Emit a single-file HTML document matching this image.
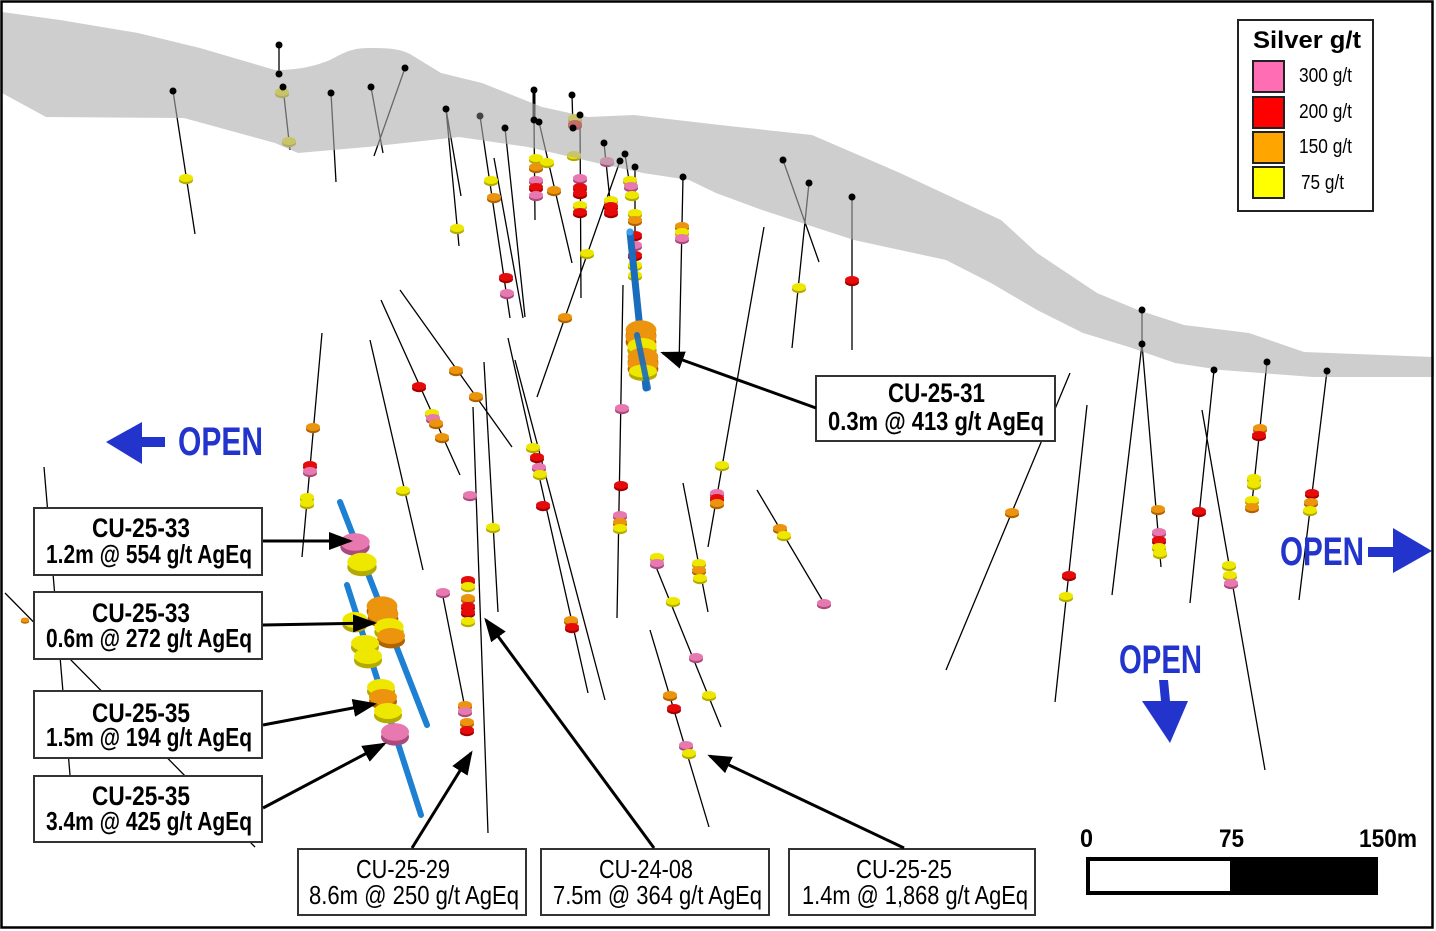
<!DOCTYPE html>
<html><head><meta charset="utf-8"><style>html,body{margin:0;padding:0;background:#fff}svg{display:block}</style></head>
<body>
<svg width="1436" height="931" viewBox="0 0 1436 931" xmlns="http://www.w3.org/2000/svg" font-family="'Liberation Sans', Arial, sans-serif">
<defs>
<g id="Y"><ellipse cy="2.2" rx="7" ry="4" fill="#b3ab00"/><ellipse rx="7" ry="4" fill="#eee800"/></g>
<g id="O"><ellipse cy="2.2" rx="7" ry="4" fill="#b06400"/><ellipse rx="7" ry="4" fill="#ec940e"/></g>
<g id="R"><ellipse cy="2.2" rx="7" ry="4" fill="#a00000"/><ellipse rx="7" ry="4" fill="#e60a0a"/></g>
<g id="P"><ellipse cy="2.2" rx="7" ry="4" fill="#a84a7c"/><ellipse rx="7" ry="4" fill="#e878b0"/></g>
<marker id="ah" markerWidth="8" markerHeight="6" refX="7" refY="3" orient="auto" markerUnits="strokeWidth"><path d="M0,0 L8,3 L0,6 z" fill="#000"/></marker>
</defs>
<rect width="1436" height="931" fill="#fff"/>

<!-- drill hole traces -->
<path fill="none" stroke="#000" stroke-width="1.3" d="M173 91L195 234 M279 45L279 74 M283 87L290 150 M331 93L336 182 M371 87L383 153 M405 68L374 156 M446 109L461 196 M446 109L459 246 M480 116L510 318 M494 158L523 318 M505 128L525 317 M534 120L535 220 M539 122L572 263 M572 95L573 128 M580 115L581 298 M604 143L611 210 M620 161L537 397 M625 154L632 200 M635 167L635 280 M683 177L679 367 M623 285L617 618 M764 227L708 547 M783 160L819 262 M809 183L792 348 M852 197L852 350 M1070 373L946 670 M1087 405L1055 702 M1142 310L1142 344 M1142 344L1112 595 M1142 344L1161 567 M1202 410L1265 770 M1214 370L1190 603 M1267 362L1251 512 M1327 371L1299 600 M757 490L824 603 M322 333L302 557 M370 340L423 570 M381 300L460 475 M400 290L512 447 M473 407L488 833 M443 597L464 703 M484 362L498 612 M508 338L588 693 M515 360L605 700 M683 483L708 612 M652 557L721 727 M650 630L709 827 M44 467L70 775 M5 593L255 847"/>
<path stroke="#000" stroke-width="3" d="M534 90L534 120"/>

<!-- small discs -->
<use href="#Y" x="186" y="178"/>
<use href="#Y" x="282" y="92"/><use href="#Y" x="289" y="141"/>
<use href="#Y" x="457" y="228"/>
<use href="#R" x="506" y="277"/><use href="#P" x="507" y="293"/>
<use href="#Y" x="491" y="180"/><use href="#O" x="494" y="197"/>
<use href="#Y" x="536" y="158"/><use href="#O" x="536" y="167"/><use href="#P" x="536" y="180"/><use href="#R" x="536" y="187"/><use href="#P" x="536" y="195"/>
<use href="#Y" x="547" y="162"/><use href="#O" x="554" y="190"/>
<use href="#Y" x="575" y="118"/><use href="#R" x="575" y="124"/><use href="#Y" x="574" y="155"/>
<use href="#P" x="580" y="178"/><use href="#R" x="580" y="187"/><use href="#R" x="580" y="193"/><use href="#Y" x="580" y="205"/><use href="#R" x="580" y="212"/>
<use href="#P" x="607" y="161"/><use href="#Y" x="611" y="200"/><use href="#R" x="611" y="206"/><use href="#R" x="611" y="212"/>
<use href="#Y" x="587" y="253"/><use href="#O" x="565" y="317"/>
<use href="#Y" x="630" y="180"/><use href="#P" x="631" y="186"/><use href="#Y" x="632" y="195"/>
<use href="#Y" x="635" y="213"/><use href="#O" x="635" y="220"/><use href="#R" x="635" y="235"/><use href="#P" x="635" y="245"/><use href="#R" x="635" y="255"/><use href="#Y" x="635" y="265"/><use href="#Y" x="635" y="275"/>
<use href="#O" x="682" y="226"/><use href="#Y" x="682" y="232"/><use href="#P" x="682" y="238"/>
<use href="#P" x="622" y="408"/><use href="#R" x="621" y="485"/><use href="#P" x="620" y="515"/><use href="#O" x="620" y="522"/><use href="#Y" x="620" y="528"/>
<use href="#Y" x="722" y="465"/><use href="#P" x="717" y="493"/><use href="#R" x="717" y="498"/><use href="#O" x="717" y="503"/>
<use href="#Y" x="799" y="287"/><use href="#R" x="852" y="280"/>
<use href="#O" x="1012" y="512"/>
<use href="#R" x="1069" y="575"/><use href="#Y" x="1066" y="596"/>
<use href="#O" x="1158" y="509"/><use href="#P" x="1159" y="532"/><use href="#R" x="1159" y="540"/><use href="#Y" x="1159" y="547"/><use href="#Y" x="1160" y="553"/>
<use href="#Y" x="1229" y="565"/><use href="#Y" x="1230" y="575"/><use href="#P" x="1231" y="583"/>
<use href="#R" x="1199" y="511"/>
<use href="#O" x="1260" y="428"/><use href="#R" x="1259" y="435"/><use href="#Y" x="1254" y="478"/><use href="#Y" x="1254" y="484"/><use href="#Y" x="1252" y="500"/><use href="#O" x="1252" y="507"/>
<use href="#R" x="1312" y="493"/><use href="#O" x="1311" y="502"/><use href="#Y" x="1310" y="510"/>
<use href="#O" x="780" y="528"/><use href="#Y" x="784" y="535"/><use href="#P" x="824" y="603"/>
<use href="#O" x="313" y="427"/><use href="#R" x="310" y="465"/><use href="#P" x="310" y="471"/><use href="#Y" x="307" y="497"/><use href="#Y" x="307" y="503"/>
<use href="#Y" x="403" y="490"/>
<use href="#R" x="419" y="386"/><use href="#Y" x="432" y="413"/><use href="#P" x="433" y="418"/><use href="#O" x="436" y="423"/><use href="#O" x="442" y="437"/>
<use href="#O" x="456" y="370"/><use href="#O" x="476" y="396"/>
<use href="#P" x="470" y="495"/><use href="#R" x="468" y="580"/><use href="#Y" x="468" y="586"/><use href="#O" x="468" y="598"/><use href="#R" x="468" y="606"/><use href="#R" x="468" y="612"/><use href="#Y" x="468" y="621"/>
<use href="#O" x="465" y="705"/><use href="#P" x="465" y="711"/><use href="#O" x="467" y="722"/><use href="#R" x="467" y="730"/>
<use href="#P" x="443" y="592"/>
<use href="#Y" x="493" y="527"/>
<use href="#Y" x="533" y="447"/><use href="#R" x="537" y="457"/><use href="#P" x="539" y="467"/><use href="#Y" x="540" y="474"/><use href="#R" x="543" y="505"/><use href="#O" x="571" y="620"/><use href="#R" x="572" y="627"/>
<use href="#Y" x="699" y="563"/><use href="#O" x="699" y="570"/><use href="#Y" x="700" y="578"/>
<use href="#Y" x="657" y="557"/><use href="#P" x="657" y="563"/><use href="#Y" x="673" y="601"/><use href="#P" x="696" y="657"/><use href="#Y" x="709" y="695"/>
<use href="#O" x="670" y="695"/><use href="#R" x="674" y="708"/><use href="#P" x="686" y="745"/><use href="#Y" x="689" y="753"/>
<use href="#O" transform="translate(25,620) scale(0.6)"/>

<!-- topographic surface band -->
<path fill="#aeaeae" fill-opacity="0.6" d="M2 12 L60 20 L138 33 L200 48 L275 70 C300 70 315 66 330 60 C345 52 352 48 370 48 C390 48 400 49 410 54 L441 73 L482 83 L542 107 L588 117 L634 115 L720 125 L812 135 L900 173 L1001 220 L1037 253 L1097 293 L1138 310 L1184 325 L1249 333 L1304 352 L1434 357 L1434 377 L1313 377 L1221 370 L1175 363 L1129 347 L1083 333 L1037 310 L991 283 L946 260 L854 240 L762 210 L716 193 L689 180 L643 173 L597 163 L528 147 L459 137 L367 147 L298 153 L275 143 L184 118 L46 117 L2 93 Z"/>

<!-- collars -->
<g fill="#000">
<circle cx="173" cy="91" r="3.5"/><circle cx="279" cy="45" r="3.5"/><circle cx="279" cy="74" r="3.5"/><circle cx="283" cy="87" r="3.5"/><circle cx="331" cy="93" r="3.5"/><circle cx="371" cy="87" r="3.5"/><circle cx="405" cy="68" r="3.5"/><circle cx="446" cy="109" r="3.5"/><circle cx="480" cy="116" r="3.5" fill="#444"/><circle cx="505" cy="128" r="3.5"/><circle cx="534" cy="90" r="3.5"/><circle cx="534" cy="120" r="3.5"/><circle cx="539" cy="122" r="3.5"/><circle cx="572" cy="95" r="3.5"/><circle cx="573" cy="128" r="3.5"/><circle cx="580" cy="115" r="3.5"/><circle cx="604" cy="143" r="3.5"/><circle cx="620" cy="161" r="3.5"/><circle cx="625" cy="154" r="3.5"/><circle cx="635" cy="167" r="3.5"/><circle cx="683" cy="177" r="3.5"/><circle cx="783" cy="160" r="3.5"/><circle cx="809" cy="183" r="3.5"/><circle cx="852" cy="197" r="3.5"/><circle cx="1142" cy="310" r="3.5"/><circle cx="1142" cy="344" r="3.5"/><circle cx="1214" cy="370" r="3.5"/><circle cx="1267" cy="362" r="3.5"/><circle cx="1327" cy="371" r="3.5"/>
</g>

<!-- blue traces -->
<g stroke-linecap="round" fill="none">
<path d="M340 502L427 725" stroke="#1e80d2" stroke-width="6"/>
<path d="M347 585L421 815" stroke="#1e80d2" stroke-width="6"/>
<path d="M630 232L646 388" stroke="#1a6cbc" stroke-width="7"/>
</g>
<circle cx="630" cy="232" r="3.5" fill="#3aa0f0"/>

<!-- big discs on blue traces -->
<use href="#P" transform="translate(355,542) scale(2.1,2.2)"/>
<use href="#Y" transform="translate(362,562) scale(2.1,2.3)"/>
<use href="#Y" transform="translate(355,620) scale(1.8,2)"/>
<use href="#O" transform="translate(382,606) scale(2.2,2.4)"/>
<use href="#O" transform="translate(383,614) scale(2.2,2.2)"/>
<use href="#Y" transform="translate(389,627) scale(2.1,2.2)"/>
<use href="#O" transform="translate(391,636) scale(2,2)"/>
<use href="#Y" transform="translate(365,643) scale(2,2)"/>
<use href="#Y" transform="translate(368,656) scale(2,2)"/>
<use href="#Y" transform="translate(381,687) scale(2,2)"/>
<use href="#O" transform="translate(383,697) scale(2,2)"/>
<use href="#Y" transform="translate(388,711) scale(2,2)"/>
<use href="#P" transform="translate(395,732) scale(2,2.2)"/>
<use href="#O" transform="translate(641,330) scale(2.2,2.4)"/>
<use href="#O" transform="translate(641,337) scale(2.2,2.3)"/>
<use href="#Y" transform="translate(642,346) scale(2.1,2)"/>
<use href="#O" transform="translate(643,357) scale(2.2,2.3)"/>
<use href="#O" transform="translate(643,364) scale(2.2,2.2)"/>
<use href="#Y" transform="translate(643,371) scale(2,1.6)"/>
<path d="M637 335L648 388" stroke="#1a6cbc" stroke-width="6" stroke-linecap="round" opacity="0.9"/>

<!-- annotation boxes -->
<g fill="#fff" stroke="#333" stroke-width="2">
<rect x="34" y="508" width="228" height="67"/>
<rect x="34" y="592" width="228" height="67"/>
<rect x="34" y="691" width="228" height="67"/>
<rect x="34" y="776" width="228" height="66"/>
<rect x="816" y="376" width="239" height="65"/>
<rect x="298" y="849" width="228" height="66"/>
<rect x="541" y="849" width="228" height="66"/>
<rect x="789" y="849" width="246" height="66"/>
</g>

<!-- arrows -->
<g stroke="#000" stroke-width="3" fill="none" marker-end="url(#ah)">
<path d="M263 541L350 541"/>
<path d="M263 625L374 623"/>
<path d="M263 725L374 704"/>
<path d="M263 808L384 744"/>
<path d="M412 848L471 753"/>
<path d="M654 848L486 620"/>
<path d="M904 848L710 756"/>
<path d="M816 408L663 353"/>
</g>

<!-- box text -->
<g font-weight="bold" font-size="27" fill="#000">
<text x="92" y="537" textLength="98" lengthAdjust="spacingAndGlyphs">CU-25-33</text>
<text x="46" y="563" textLength="206" lengthAdjust="spacingAndGlyphs" font-size="26">1.2m @ 554 g/t AgEq</text>
<text x="92" y="622" textLength="98" lengthAdjust="spacingAndGlyphs">CU-25-33</text>
<text x="46" y="647" textLength="206" lengthAdjust="spacingAndGlyphs" font-size="26">0.6m @ 272 g/t AgEq</text>
<text x="92" y="722" textLength="98" lengthAdjust="spacingAndGlyphs">CU-25-35</text>
<text x="46" y="746" textLength="206" lengthAdjust="spacingAndGlyphs" font-size="26">1.5m @ 194 g/t AgEq</text>
<text x="92" y="805" textLength="98" lengthAdjust="spacingAndGlyphs">CU-25-35</text>
<text x="46" y="830" textLength="206" lengthAdjust="spacingAndGlyphs" font-size="26">3.4m @ 425 g/t AgEq</text>
<text x="888" y="402" textLength="97" lengthAdjust="spacingAndGlyphs">CU-25-31</text>
<text x="828" y="430" textLength="216" lengthAdjust="spacingAndGlyphs" font-size="26">0.3m @ 413 g/t AgEq</text>
</g>
<g font-size="26" fill="#000">
<text x="356" y="878" textLength="94" lengthAdjust="spacingAndGlyphs">CU-25-29</text>
<text x="309" y="904" textLength="210" lengthAdjust="spacingAndGlyphs">8.6m @ 250 g/t AgEq</text>
<text x="599" y="878" textLength="94" lengthAdjust="spacingAndGlyphs">CU-24-08</text>
<text x="553" y="904" textLength="209" lengthAdjust="spacingAndGlyphs">7.5m @ 364 g/t AgEq</text>
<text x="856" y="878" textLength="96" lengthAdjust="spacingAndGlyphs">CU-25-25</text>
<text x="802" y="904" textLength="226" lengthAdjust="spacingAndGlyphs">1.4m @ 1,868 g/t AgEq</text>
</g>

<!-- legend -->
<rect x="1238" y="20" width="135" height="191" fill="#fff" stroke="#222" stroke-width="2"/>
<text x="1253" y="48" font-size="24" font-weight="bold" textLength="108" lengthAdjust="spacingAndGlyphs">Silver g/t</text>
<g stroke="#222" stroke-width="2">
<rect x="1253" y="61" width="31" height="31" fill="#ff6eb4"/>
<rect x="1253" y="97" width="31" height="31" fill="#ff0000"/>
<rect x="1253" y="132" width="31" height="31" fill="#ffa500"/>
<rect x="1253" y="167" width="31" height="31" fill="#ffff00"/>
</g>
<g font-size="20" fill="#000">
<text x="1299" y="82" textLength="53" lengthAdjust="spacingAndGlyphs">300 g/t</text>
<text x="1299" y="118" textLength="53" lengthAdjust="spacingAndGlyphs">200 g/t</text>
<text x="1299" y="153" textLength="53" lengthAdjust="spacingAndGlyphs">150 g/t</text>
<text x="1301" y="189" textLength="43" lengthAdjust="spacingAndGlyphs">75 g/t</text>
</g>

<!-- scale bar -->
<g font-size="25" font-weight="bold" fill="#000">
<text x="1080" y="847" textLength="13" lengthAdjust="spacingAndGlyphs">0</text>
<text x="1219" y="847" textLength="25" lengthAdjust="spacingAndGlyphs">75</text>
<text x="1359" y="847" textLength="58" lengthAdjust="spacingAndGlyphs">150m</text>
</g>
<rect x="1086" y="857" width="292" height="38" fill="#000"/>
<rect x="1090" y="861" width="140" height="30" fill="#fff"/>

<!-- OPEN labels -->
<g fill="#2234cc">
<polygon points="106,442 142,422 142,437 165,437 165,447 142,447 142,464"/>
<text x="178" y="455" font-size="40" font-weight="bold" textLength="85" lengthAdjust="spacingAndGlyphs">OPEN</text>
<text x="1280" y="565" font-size="40" font-weight="bold" textLength="84" lengthAdjust="spacingAndGlyphs">OPEN</text>
<polygon points="1368,547 1393,547 1393,528 1432,551 1393,573 1393,557 1368,557"/>
<text x="1119" y="673" font-size="40" font-weight="bold" textLength="83" lengthAdjust="spacingAndGlyphs">OPEN</text>
<polygon points="1159,680 1168,680 1170,701 1188,701 1170,743 1142,701 1161,701"/>
</g>

<!-- frame -->
<rect x="1.5" y="1.5" width="1431" height="926" fill="none" stroke="#000" stroke-width="2.5"/>
</svg>
</body></html>
